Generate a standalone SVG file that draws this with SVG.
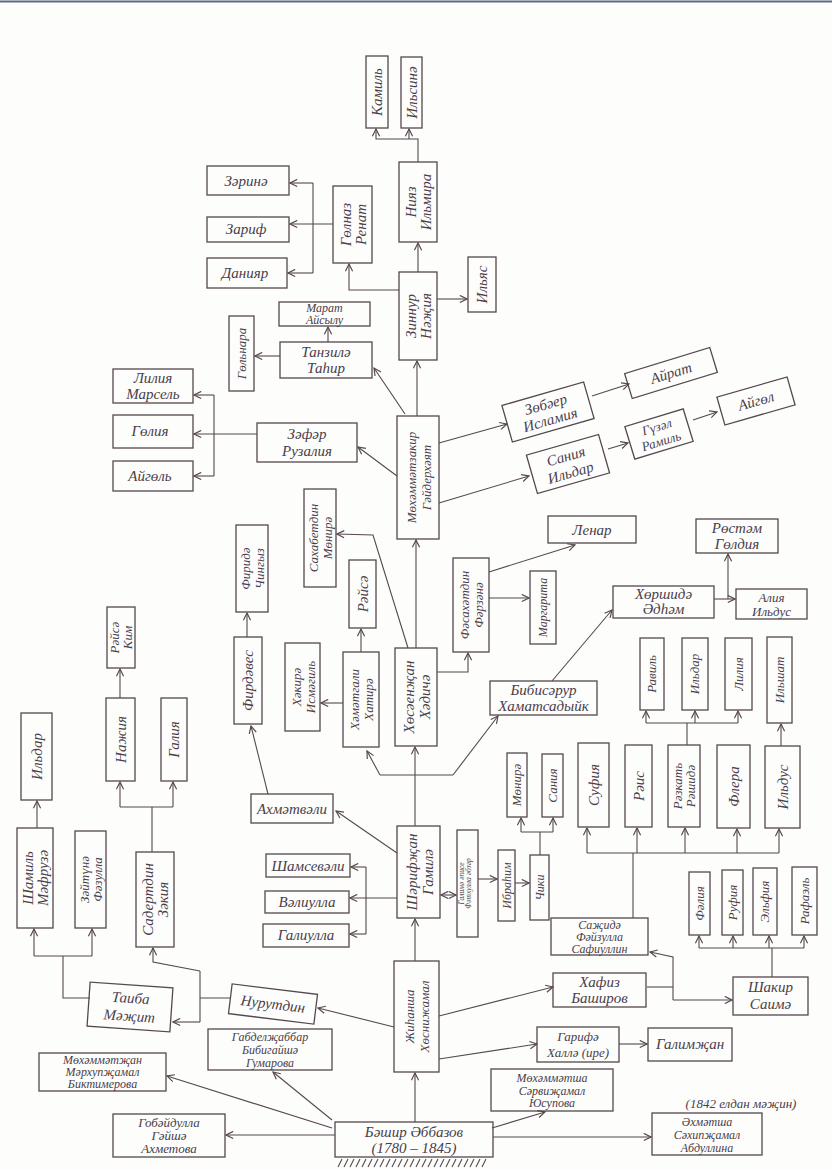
<svg xmlns="http://www.w3.org/2000/svg" width="832" height="1170" viewBox="0 0 832 1170">
<style>
.b{fill:none;stroke:#55484e;stroke-width:1.3}
.c{fill:none;stroke:#55484e;stroke-width:1.1}
.a{marker-end:url(#ar)}
.t{font-family:"Liberation Serif","DejaVu Serif",serif;font-style:italic;fill:#4a3d4a;font-size:15px;text-anchor:middle}
.s{font-size:13px}
.xs{font-size:12px}
.xxs{font-size:7.5px}
</style>
<defs>
<marker id="ar" viewBox="0 0 10 10" refX="9" refY="5" markerWidth="9" markerHeight="9" orient="auto-start-reverse" markerUnits="userSpaceOnUse">
<path d="M1,1 L9,5 L1,9" fill="none" stroke="#55484e" stroke-width="1.3"/>
</marker>
</defs>
<rect width="832" height="1170" fill="#fdfdfc"/>
<line x1="0" y1="1.5" x2="832" y2="1.5" stroke="#5d6a86" stroke-width="2"/>

<g id="connectors">
<path class="c a" d="M418,162 V139 H376 V129"/>
<path class="c a" d="M409,139 V129"/>
<path class="c a" d="M418,272 V243"/>
<path class="c a" d="M399,290 H349 V264"/>
<path class="c a" d="M333,224 H290"/>
<path class="c" d="M313,183 V273"/>
<path class="c a" d="M313,183 H290"/>
<path class="c a" d="M313,273 H288"/>
<path class="c a" d="M437,299 H467"/>
<path class="c a" d="M417,416 V361"/>
<path class="c a" d="M405,414 L374,368"/>
<path class="c a" d="M328,342 V327"/>
<path class="c a" d="M280,356 H255"/>
<path class="c a" d="M397,476 L358,447"/>
<path class="c a" d="M257,434 H194"/>
<path class="c" d="M214,395 V476"/>
<path class="c a" d="M214,395 H194"/>
<path class="c a" d="M214,476 H194"/>
<path class="c a" d="M439,443 L507,424"/>
<path class="c a" d="M592,396 L629,384"/>
<path class="c a" d="M439,503 L529,476"/>
<path class="c a" d="M608,449 L628,443"/>
<path class="c a" d="M693,420 L717,412"/>
<path class="c a" d="M416,648 V540"/>
<path class="c a" d="M408,648 L373,535 L337,534"/>
<path class="c a" d="M361,652 V629"/>
<path class="c a" d="M343,703 H321"/>
<path class="c a" d="M437,672 H468 V653"/>
<path class="c a" d="M489,572 L575,545"/>
<path class="c a" d="M489,598 H529"/>
<path class="c a" d="M552,681 L612,610"/>
<path class="c a" d="M714,599 H735"/>
<path class="c a" d="M728,599 V554"/>
<path class="c" d="M687,745 V723 M646,723 H738"/>
<path class="c a" d="M646,723 V711"/>
<path class="c a" d="M695,723 V711"/>
<path class="c a" d="M738,723 V711"/>
<path class="c a" d="M781,746 V724"/>
<path class="c" d="M633,918 V853 M587,853 H779"/>
<path class="c a" d="M587,853 V828"/>
<path class="c a" d="M637,853 V828"/>
<path class="c a" d="M685,853 V828"/>
<path class="c a" d="M737,853 V829"/>
<path class="c a" d="M779,853 V829"/>
<path class="c" d="M772,977 V948 M699,948 H804"/>
<path class="c a" d="M699,948 V936"/>
<path class="c a" d="M733,948 V936"/>
<path class="c a" d="M769,948 V936"/>
<path class="c a" d="M804,948 V936"/>
<path class="c" d="M647,987 H673"/>
<path class="c a" d="M673,1000 V957 L650,952"/>
<path class="c a" d="M673,1000 H732"/>
<path class="c a" d="M515,883 H529"/>
<path class="c" d="M540,855 V832 M521,832 H553"/>
<path class="c a" d="M521,832 V818"/>
<path class="c a" d="M553,832 V818"/>
<path class="c a" d="M478,879 H497"/>
<path class="c a" d="M441,895 H456" style="marker-start:url(#ar)"/>
<path class="c a" d="M397,853 L336,811"/>
<path class="c a" d="M397,898 H350"/>
<path class="c" d="M366,867 V934"/>
<path class="c a" d="M366,867 H351"/>
<path class="c a" d="M366,934 H350"/>
<path class="c a" d="M415,826 V747"/>
<path class="c" d="M380,775 H453"/>
<path class="c a" d="M380,775 L367,751"/>
<path class="c a" d="M453,775 L498,716"/>
<path class="c a" d="M268,794 L251,726"/>
<path class="c a" d="M247,637 V613"/>
<path class="c a" d="M120,698 V669"/>
<path class="c" d="M152,852 V807 M120,807 H173"/>
<path class="c a" d="M120,807 V782"/>
<path class="c a" d="M173,807 V782"/>
<path class="c a" d="M37,828 V801"/>
<path class="c" d="M90,998 H63 V956 M34,956 H92"/>
<path class="c a" d="M34,956 V929"/>
<path class="c a" d="M92,956 V929"/>
<path class="c" d="M230,998 H200 M200,971 V1022"/>
<path class="c a" d="M200,1022 H173"/>
<path class="c a" d="M200,971 L153,962 V948"/>
<path class="c a" d="M394,1027 L318,1008"/>
<path class="c a" d="M439,1016 L553,987"/>
<path class="c a" d="M439,1059 L537,1044"/>
<path class="c a" d="M619,1044 H647"/>
<path class="c a" d="M415,961 V919"/>
<path class="c a" d="M415,1122 V1073"/>
<path class="c a" d="M335,1135 H226"/>
<path class="c a" d="M332,1128 L167,1076"/>
<path class="c a" d="M332,1120 L273,1072"/>
<path class="c a" d="M492,1128 L545,1112"/>
<path class="c a" d="M493,1137 H651"/>
</g>

<g id="kamil"><rect class="b" x="366" y="56" width="22" height="72"/><text class="t" transform="translate(377,92) rotate(-90)"><tspan x="0" y="5">Камиль</tspan></text></g>
<g id="ilsina"><rect class="b" x="401" y="57" width="21" height="71"/><text class="t" transform="translate(411.5,92.5) rotate(-90)"><tspan x="0" y="5">Ильсинә</tspan></text></g>
<g id="niyaz"><rect class="b" x="399" y="162" width="38" height="80"/><text class="t" transform="translate(418,202) rotate(-90)"><tspan x="0" y="-2">Нияз</tspan><tspan x="0" y="13">Ильмира</tspan></text></g>
<g id="gulnaz"><rect class="b" x="333" y="186" width="39" height="77"/><text class="t" transform="translate(352.5,224.5) rotate(-90)"><tspan x="0" y="-2">Гөлназ</tspan><tspan x="0" y="13">Ренат</tspan></text></g>
<g id="zinnur"><rect class="b" x="399" y="272" width="38" height="88"/><text class="t" transform="translate(418,316) rotate(-90)"><tspan x="0" y="-2">Зиннур</tspan><tspan x="0" y="13">Нәҗия</tspan></text></g>
<g id="ilyas"><rect class="b" x="468" y="257" width="28" height="55"/><text class="t" transform="translate(482,284.5) rotate(-90)"><tspan x="0" y="5">Ильяс</tspan></text></g>
<g id="zarina"><rect class="b" x="207" y="166" width="82" height="29"/><text class="t" x="246" y="186">Зәринә</text></g>
<g id="zarif"><rect class="b" x="207" y="217" width="82" height="25"/><text class="t" x="246" y="234">Зариф</text></g>
<g id="daniyar"><rect class="b" x="207" y="258" width="80" height="30"/><text class="t" x="245" y="278">Данияр</text></g>
<g id="marat"><rect class="b" x="279" y="302" width="91" height="24"/><text class="t xs" x="324.5" y="312">Марат</text><text class="t xs" x="324.5" y="324">Айсылу</text></g>
<g id="gulnara"><rect class="b" x="229" y="316" width="25" height="75"/><text class="t s" transform="translate(241.5,353.5) rotate(-90)"><tspan x="0" y="4">Гөльнара</tspan></text></g>
<g id="tanzila"><rect class="b" x="280" y="342" width="92" height="36"/><text class="t" x="326" y="357">Танзилә</text><text class="t" x="326" y="373">Таһир</text></g>
<g id="liliya-marsel"><rect class="b" x="113" y="369" width="80" height="34"/><text class="t" x="153" y="383">Лилия</text><text class="t" x="153" y="399">Марсель</text></g>
<g id="guliya"><rect class="b" x="113" y="415" width="80" height="33"/><text class="t" x="150" y="436">Гөлия</text></g>
<g id="aygul1"><rect class="b" x="113" y="461" width="80" height="30"/><text class="t" x="150" y="481">Айгөль</text></g>
<g id="zafar"><rect class="b" x="257" y="423" width="100" height="39"/><text class="t" x="307" y="439">Зәфәр</text><text class="t" x="307" y="456">Рузалия</text></g>
<g id="mz"><rect class="b" x="397" y="416" width="42" height="123"/><text class="t s" transform="translate(418,477.5) rotate(-90)"><tspan x="0" y="-2">Мөхәммәтзакир</tspan><tspan x="0" y="13">Гәйдерхәят</tspan></text></g>
<g id="zubayer" transform="translate(548,412) rotate(-16)"><rect class="b" x="-42.5" y="-19" width="85" height="38"/><text class="t" x="0" y="-3">Зөбәер</text><text class="t" x="0" y="13">Исламия</text></g>
<g id="ayrat" transform="translate(671,373) rotate(-17)"><rect class="b" x="-44.5" y="-13" width="89" height="26"/><text class="t" x="0" y="5">Айрат</text></g>
<g id="saniya-ildar" transform="translate(568,464) rotate(-16)"><rect class="b" x="-37.5" y="-20" width="75" height="40"/><text class="t" x="0" y="-3">Сания</text><text class="t" x="0" y="14">Ильдар</text></g>
<g id="guzal" transform="translate(659,434) rotate(-17)"><rect class="b" x="-30.5" y="-17" width="61" height="34"/><text class="t s" x="0" y="-3">Гүзәл</text><text class="t s" x="0" y="12">Рамиль</text></g>
<g id="aygul2" transform="translate(756,401) rotate(-16)"><rect class="b" x="-36.5" y="-14.5" width="73" height="29"/><text class="t" x="0" y="5">Айгөл</text></g>
<g id="lenar"><rect class="b" x="548" y="516" width="88" height="27"/><text class="t" x="592" y="535">Ленар</text></g>
<g id="sahab"><rect class="b" x="304" y="489" width="32" height="98"/><text class="t s" transform="translate(320,538) rotate(-90)"><tspan x="0" y="-2">Сахабетдин</tspan><tspan x="0" y="12">Мөнирә</tspan></text></g>
<g id="raisa"><rect class="b" x="349" y="560" width="27" height="68"/><text class="t" transform="translate(362.5,594) rotate(-90)"><tspan x="0" y="5">Рәйсә</tspan></text></g>
<g id="firida"><rect class="b" x="236" y="525" width="32" height="87"/><text class="t s" transform="translate(252,568.5) rotate(-90)"><tspan x="0" y="-2">Фиридә</tspan><tspan x="0" y="12">Чингыз</tspan></text></g>
<g id="firdaves"><rect class="b" x="234" y="637" width="28" height="87"/><text class="t" transform="translate(248,680.5) rotate(-90)"><tspan x="0" y="5">Фирдәвес</tspan></text></g>
<g id="fasah"><rect class="b" x="453" y="558" width="36" height="94"/><text class="t s" transform="translate(471,605) rotate(-90)"><tspan x="0" y="-2">Фәсахәтдин</tspan><tspan x="0" y="12">Фәрзәнә</tspan></text></g>
<g id="margarita"><rect class="b" x="530" y="571" width="26" height="73"/><text class="t xs" transform="translate(543,607.5) rotate(-90)"><tspan x="0" y="4">Маргарита</tspan></text></g>
<g id="rustam"><rect class="b" x="696" y="519" width="82" height="34"/><text class="t" x="737" y="533">Рөстәм</text><text class="t" x="737" y="549">Гөлдия</text></g>
<g id="hurshida"><rect class="b" x="613" y="586" width="101" height="32"/><text class="t" x="663.5" y="599">Хөршидә</text><text class="t" x="663.5" y="614">Әдһәм</text></g>
<g id="aliya"><rect class="b" x="736" y="589" width="71" height="30"/><text class="t s" x="771.5" y="602">Алия</text><text class="t s" x="771.5" y="616">Ильдус</text></g>
<g id="bibisarur"><rect class="b" x="490" y="681" width="107" height="34"/><text class="t" x="543.5" y="695">Бибисәрур</text><text class="t" x="543.5" y="711">Хаматсадыйк</text></g>
<g id="hakira"><rect class="b" x="285" y="643" width="35" height="88"/><text class="t s" transform="translate(302.5,687) rotate(-90)"><tspan x="0" y="-2">Хәкирә</tspan><tspan x="0" y="12">Исмәгиль</tspan></text></g>
<g id="hamatgali"><rect class="b" x="343" y="652" width="36" height="95"/><text class="t s" transform="translate(361,699.5) rotate(-90)"><tspan x="0" y="-2">Хәмәтгали</tspan><tspan x="0" y="12">Хатирә</tspan></text></g>
<g id="husain"><rect class="b" x="395" y="648" width="42" height="98"/><text class="t" transform="translate(416,697) rotate(-90)"><tspan x="0" y="-2">Хөсәенҗан</tspan><tspan x="0" y="14">Хәдичә</tspan></text></g>
<g id="ravil"><rect class="b" x="640" y="638" width="24" height="72"/><text class="t s" transform="translate(652,674) rotate(-90)"><tspan x="0" y="4">Равиль</tspan></text></g>
<g id="ildar2"><rect class="b" x="682" y="638" width="26" height="72"/><text class="t s" transform="translate(695,674) rotate(-90)"><tspan x="0" y="4">Ильдар</tspan></text></g>
<g id="liliya2"><rect class="b" x="725" y="638" width="27" height="72"/><text class="t s" transform="translate(738.5,674) rotate(-90)"><tspan x="0" y="4">Лилия</tspan></text></g>
<g id="ilshat"><rect class="b" x="767" y="637" width="25" height="86"/><text class="t s" transform="translate(779.5,680) rotate(-90)"><tspan x="0" y="4">Ильшат</tspan></text></g>
<g id="raisa-kim"><rect class="b" x="107" y="607" width="28" height="61"/><text class="t s" transform="translate(121,637.5) rotate(-90)"><tspan x="0" y="-2">Рәйсә</tspan><tspan x="0" y="11">Ким</tspan></text></g>
<g id="nazhiya"><rect class="b" x="106" y="698" width="29" height="83"/><text class="t" transform="translate(120.5,739.5) rotate(-90)"><tspan x="0" y="5">Нажия</tspan></text></g>
<g id="galiya"><rect class="b" x="161" y="698" width="26" height="83"/><text class="t" transform="translate(174,739.5) rotate(-90)"><tspan x="0" y="5">Галия</tspan></text></g>
<g id="ildar1"><rect class="b" x="21" y="713" width="31" height="87"/><text class="t" transform="translate(36.5,756.5) rotate(-90)"><tspan x="0" y="5">Ильдар</tspan></text></g>
<g id="shamil"><rect class="b" x="17" y="828" width="36" height="100"/><text class="t" transform="translate(35,878) rotate(-90)"><tspan x="0" y="-2">Шамиль</tspan><tspan x="0" y="13">Мәфрузә</tspan></text></g>
<g id="zaytuna"><rect class="b" x="75" y="831" width="31" height="97"/><text class="t s" transform="translate(90.5,879.5) rotate(-90)"><tspan x="0" y="-2">Зәйтүнә</tspan><tspan x="0" y="11">Фәзулла</tspan></text></g>
<g id="sadertdin"><rect class="b" x="136" y="852" width="38" height="95"/><text class="t" transform="translate(155,899.5) rotate(-90)"><tspan x="0" y="-2">Садертдин</tspan><tspan x="0" y="13">Зәкия</tspan></text></g>
<g id="taiba" transform="translate(130,1007) rotate(4)"><rect class="b" x="-41.5" y="-22" width="83" height="44"/><text class="t" x="0" y="-4">Таиба</text><text class="t" x="0" y="14">Мәҗит</text></g>
<g id="ahmatvali"><rect class="b" x="251" y="794" width="82" height="29"/><text class="t" x="292" y="814">Ахмәтвәли</text></g>
<g id="shamsevali"><rect class="b" x="266" y="854" width="84" height="23"/><text class="t" x="308" y="871">Шамсевәли</text></g>
<g id="valiulla"><rect class="b" x="265" y="891" width="84" height="22"/><text class="t" x="307" y="907">Вәлиулла</text></g>
<g id="galiulla"><rect class="b" x="263" y="924" width="86" height="23"/><text class="t" x="306" y="940">Галиулла</text></g>
<g id="sharifjan"><rect class="b" x="397" y="826" width="43" height="92"/><text class="t" transform="translate(418.5,872) rotate(-90)"><tspan x="0" y="-2">Шәрифҗан</tspan><tspan x="0" y="14">Гамилә</tspan></text></g>
<g id="galima"><rect class="b" x="457" y="830" width="21" height="107"/><text class="t xxs" transform="translate(467.5,883.5) rotate(-90)"><tspan x="0" y="-4">Галимә әписе</tspan><tspan x="0" y="3">Фәтхулла әбзәр</tspan></text></g>
<g id="ibrahim"><rect class="b" x="498" y="850" width="17" height="71"/><text class="t xs" transform="translate(506.5,885.5) rotate(-90)"><tspan x="0" y="4">Ибраһим</tspan></text></g>
<g id="chiki"><rect class="b" x="530" y="855" width="19" height="65"/><text class="t xs" transform="translate(539.5,887.5) rotate(-90)"><tspan x="0" y="4">Чики</tspan></text></g>
<g id="munira"><rect class="b" x="507" y="753" width="20" height="64"/><text class="t s" transform="translate(517,785) rotate(-90)"><tspan x="0" y="4">Мөнирә</tspan></text></g>
<g id="saniya2"><rect class="b" x="542" y="754" width="21" height="63"/><text class="t s" transform="translate(552.5,785.5) rotate(-90)"><tspan x="0" y="4">Сания</tspan></text></g>
<g id="sufiya"><rect class="b" x="578" y="743" width="31" height="84"/><text class="t" transform="translate(593.5,785) rotate(-90)"><tspan x="0" y="5">Суфия</tspan></text></g>
<g id="rais"><rect class="b" x="625" y="745" width="27" height="82"/><text class="t" transform="translate(638.5,786) rotate(-90)"><tspan x="0" y="5">Рәис</tspan></text></g>
<g id="razkat"><rect class="b" x="668" y="745" width="32" height="82"/><text class="t s" transform="translate(684,786) rotate(-90)"><tspan x="0" y="-2">Рәзкать</tspan><tspan x="0" y="11">Рәшидә</tspan></text></g>
<g id="flera"><rect class="b" x="717" y="745" width="33" height="83"/><text class="t" transform="translate(733.5,786.5) rotate(-90)"><tspan x="0" y="5">Флера</tspan></text></g>
<g id="ildus"><rect class="b" x="765" y="746" width="35" height="82"/><text class="t" transform="translate(782.5,787) rotate(-90)"><tspan x="0" y="5">Ильдус</tspan></text></g>
<g id="faliya"><rect class="b" x="689" y="872" width="21" height="63"/><text class="t s" transform="translate(699.5,903.5) rotate(-90)"><tspan x="0" y="4">Фәлия</tspan></text></g>
<g id="rufiya"><rect class="b" x="722" y="870" width="21" height="65"/><text class="t s" transform="translate(732.5,902.5) rotate(-90)"><tspan x="0" y="4">Руфия</tspan></text></g>
<g id="elfiya"><rect class="b" x="753" y="868" width="24" height="67"/><text class="t s" transform="translate(765,901.5) rotate(-90)"><tspan x="0" y="4">Эльфия</tspan></text></g>
<g id="rafael"><rect class="b" x="792" y="867" width="25" height="68"/><text class="t s" transform="translate(804.5,901) rotate(-90)"><tspan x="0" y="4">Рафаэль</tspan></text></g>
<g id="sajida"><rect class="b" x="551" y="918" width="97" height="37"/><text class="t xs" x="599.5" y="929">Саҗидә</text><text class="t xs" x="599.5" y="941">Фәйзулла</text><text class="t xs" x="599.5" y="953">Сафиуллин</text></g>
<g id="shakir"><rect class="b" x="733" y="977" width="75" height="38"/><text class="t" x="770.5" y="992">Шакир</text><text class="t" x="770.5" y="1009">Саимә</text></g>
<g id="hafiz"><rect class="b" x="553" y="973" width="93" height="34"/><text class="t" x="599.5" y="987">Хафиз</text><text class="t" x="599.5" y="1003">Баширов</text></g>
<g id="garifa"><rect class="b" x="537" y="1027" width="82" height="35"/><text class="t s" x="578" y="1041">Гарифә</text><text class="t s" x="578" y="1057">Халлә (ире)</text></g>
<g id="galimjan"><rect class="b" x="648" y="1028" width="84" height="33"/><text class="t" x="690" y="1049">Галимҗан</text></g>
<g id="nurutdin" transform="translate(273,1004) rotate(7)"><rect class="b" x="-43" y="-15" width="86" height="30"/><text class="t" x="0" y="5">Нурутдин</text></g>
<g id="zhihansha"><rect class="b" x="394" y="961" width="45" height="111"/><text class="t s" transform="translate(416.5,1016.5) rotate(-90)"><tspan x="0" y="-3">Жиһанша</tspan><tspan x="0" y="12">Хөснижамал</tspan></text></g>
<g id="gabdeljabbar"><rect class="b" x="208" y="1029" width="124" height="41"/><text class="t xs" x="270" y="1041">Габделҗаббар</text><text class="t xs" x="270" y="1054">Бибигайшә</text><text class="t xs" x="270" y="1067">Гумарова</text></g>
<g id="muhammatjan"><rect class="b" x="39" y="1053" width="127" height="38"/><text class="t xs" x="102.5" y="1064">Мөхәммәтҗан</text><text class="t xs" x="102.5" y="1076">Мәрхупҗамал</text><text class="t xs" x="102.5" y="1088">Биктимерова</text></g>
<g id="gubaydulla"><rect class="b" x="113" y="1114" width="112" height="43"/><text class="t s" x="169" y="1127">Гобәйдулла</text><text class="t s" x="169" y="1140">Гәйшә</text><text class="t s" x="169" y="1153">Ахметова</text></g>
<g id="bashir"><rect class="b" x="335" y="1122" width="158" height="35"/><text class="t" x="414" y="1137">Бәшир Әббазов</text><text class="t" x="414" y="1153">(1780 – 1845)</text><path class="c" d="M338,1167 l4,-8 m2,8 l4,-8 m2,8 l4,-8 m2,8 l4,-8 m2,8 l4,-8 m2,8 l4,-8 m2,8 l4,-8 m2,8 l4,-8 m2,8 l4,-8 m2,8 l4,-8 m2,8 l4,-8 m2,8 l4,-8 m2,8 l4,-8 m2,8 l4,-8 m2,8 l4,-8 m2,8 l4,-8 m2,8 l4,-8 m2,8 l4,-8 m2,8 l4,-8 m2,8 l4,-8 m2,8 l4,-8 m2,8 l4,-8 m2,8 l4,-8 m2,8 l4,-8 m2,8 l4,-8"/></g>
<g id="muhammatsha"><rect class="b" x="491" y="1069" width="122" height="42"/><text class="t xs" x="552" y="1082">Мөхәммәтша</text><text class="t xs" x="552" y="1095">Сәрвиҗамал</text><text class="t xs" x="552" y="1107">Юсупова</text></g>
<g id="ahmatsha"><rect class="b" x="652" y="1113" width="110" height="42"/><text class="t xs" x="707" y="1126">Әхмәтша</text><text class="t xs" x="707" y="1139">Сәхипҗамал</text><text class="t xs" x="707" y="1152">Абдуллина</text><text class="t s" x="741" y="1108">(1842 елдан мәҗин)</text></g>
</svg>
